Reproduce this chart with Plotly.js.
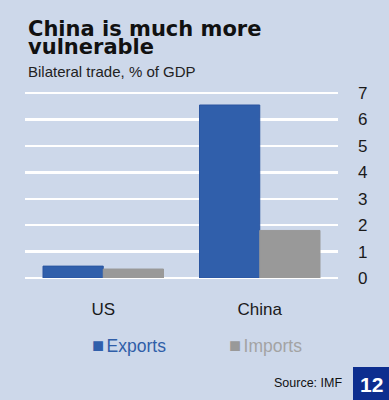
<!DOCTYPE html>
<html>
<head>
<meta charset="utf-8">
<script src="https://cdn.plot.ly/plotly-3.0.1.min.js"></script>
<style>
html,body{margin:0;padding:0;background:#cdd8ea;}
#chart{width:389px;height:400px;}
</style>
</head>
<body>
<div id="chart"></div>
<script>
const categories = ["US", "China"];
const exportsValues = [0.45, 6.55];
const importsValues = [0.34, 1.8];
const yTicks = [0, 1, 2, 3, 4, 5, 6, 7];
const seriesNames = ["Exports", "Imports"];

const bg = "#cdd8ea";
const blue = "#305fab";
const grey = "#999999";

const traces = [
  {
    type: "bar", x: categories, y: exportsValues, name: seriesNames[0],
    marker: {color: blue, line: {color: "#2a55a0", width: 1}},
    hoverinfo: "skip", showlegend: false
  },
  {
    type: "bar", x: categories, y: importsValues, name: seriesNames[1],
    marker: {color: grey, line: {color: grey, width: 1}},
    hoverinfo: "skip", showlegend: false
  }
];

// plot area: left 25px, width 313px; top 91px, height 187px
const PW = 313, PH = 187, PL = 25, PT = 91;
const px = v => (v - PL) / PW;
const py = v => (PT + PH - v) / PH;

const legendLabel = (color, name) =>
  "<span style='color:" + color + ";font-size:20px'>■</span><span style='font-size:9px'> </span>" + name;

const layout = {
  width: 389, height: 400,
  paper_bgcolor: bg, plot_bgcolor: bg,
  margin: {l: 25, r: 51, t: 91, b: 122},
  barmode: "group", bargap: 0.23, bargroupgap: 0,
  font: {family: "Liberation Sans, Arial, sans-serif", color: "#1a1a1a"},
  xaxis: {
    type: "category", range: [-0.5, 1.5],
    showgrid: false, zeroline: false, showline: false,
    ticks: "", tickfont: {size: 17, color: "#1a1a1a"},
    ticklabelstandoff: 19
  },
  yaxis: {
    side: "right", range: [0, 7.08],
    tickvals: yTicks, ticktext: yTicks.map(String),
    showgrid: true, gridcolor: "#ffffff", gridwidth: 2.5,
    zeroline: true, zerolinecolor: "#ffffff", zerolinewidth: 2.5,
    showline: false, ticks: "",
    tickfont: {size: 17, color: "#1a1a1a"},
    ticklabelstandoff: 19
  },
  showlegend: false,
  shapes: [
    {type: "rect", xref: "paper", yref: "paper",
     x0: px(353), x1: px(390), y0: py(367), y1: py(401),
     fillcolor: "#0d2e8f", line: {width: 0}}
  ],
  annotations: [
    {text: "<b>China is much more</b>", xref: "paper", yref: "paper",
     x: px(26), y: py(28.5), xanchor: "left", yanchor: "middle", align: "left",
     showarrow: false, font: {size: 21, family: "DejaVu Sans, sans-serif", color: "#111111"}},
    {text: "<b>vulnerable</b>", xref: "paper", yref: "paper",
     x: px(26), y: py(47.5), xanchor: "left", yanchor: "middle", align: "left",
     showarrow: false, font: {size: 21, family: "DejaVu Sans, sans-serif", color: "#111111"}},
    {text: "Bilateral trade, % of GDP", xref: "paper", yref: "paper",
     x: px(26), y: py(71), xanchor: "left", yanchor: "middle", align: "left",
     showarrow: false, font: {size: 15, color: "#222222"}},
    {text: legendLabel(blue, seriesNames[0]), xref: "paper", yref: "paper",
     x: px(90), y: py(344.5), xanchor: "left", yanchor: "middle", align: "left",
     showarrow: false, font: {size: 17.5, color: "#2f5ea8"}},
    {text: legendLabel(grey, seriesNames[1]), xref: "paper", yref: "paper",
     x: px(227), y: py(344.5), xanchor: "left", yanchor: "middle", align: "left",
     showarrow: false, font: {size: 17.5, color: "#a3a3a3"}},
    {text: "Source: IMF", xref: "paper", yref: "paper",
     x: px(344), y: py(383), xanchor: "right", yanchor: "middle",
     showarrow: false, font: {size: 12.5, color: "#111111"}},
    {text: "<b>12</b>", xref: "paper", yref: "paper",
     x: px(371.5), y: py(384), xanchor: "center", yanchor: "middle",
     showarrow: false,
     font: {size: 21, color: "#ffffff", family: "Liberation Sans, Arial, sans-serif"}}
  ]
};

Plotly.newPlot("chart", traces, layout, {displayModeBar: false, staticPlot: true});
</script>
</body>
</html>
